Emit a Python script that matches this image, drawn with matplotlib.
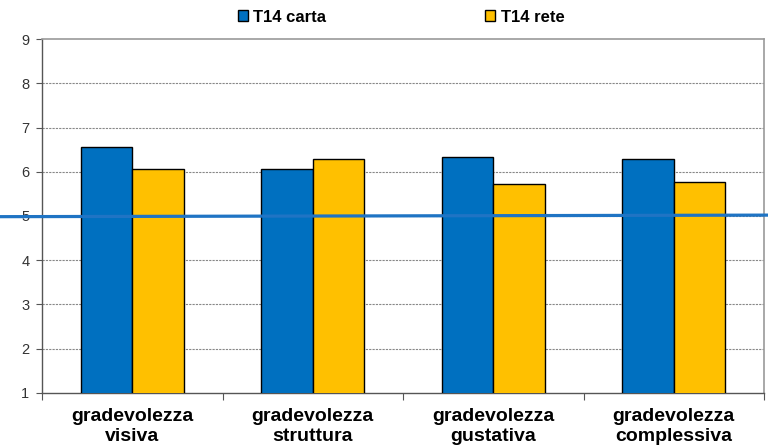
import matplotlib
matplotlib.use("Agg")
import matplotlib.pyplot as plt
import numpy as np

categories = ["gradevolezza\nvisiva", "gradevolezza\nstruttura", "gradevolezza\ngustativa", "gradevolezza\ncomplessiva"]
carta = [6.555, 6.06, 6.34, 6.28]
rete = [6.06, 6.28, 5.72, 5.78]
series_names = ["T14 carta", "T14 rete"]
ref_line = [4.985, 5.02]
yticks = [1, 2, 3, 4, 5, 6, 7, 8, 9]

plt.rcParams['font.family'] = ['Liberation Sans', 'DejaVu Sans']
W, H = 768, 447
fig = plt.figure(figsize=(7.68, 4.47), dpi=100)
L, R, T, B = 42, 764, 39.3, 392.7
ax = fig.add_axes([L/W, 1-B/H, (R-L)/W, (B-T)/H])

x = np.arange(len(categories))
w = 0.284
ax.bar(x - w/2, carta, w, bottom=0, color="#0070C0", edgecolor="black", linewidth=1.0, zorder=3, label=series_names[0])
ax.bar(x + w/2, rete, w, bottom=0, color="#FFC000", edgecolor="black", linewidth=1.0, zorder=3, label=series_names[1])

ax.set_xlim(-0.5, 3.5)
ax.set_ylim(1, 9)
ax.set_yticks(yticks)
ax.set_yticklabels([str(t) for t in yticks], fontsize=10.5, color="#333333")
for t in yticks[1:-1]:
    ax.axhline(t, color="#888888", linestyle=(0, (2, 1)), linewidth=0.8, zorder=1)

ax.set_xticks([-0.5, 0.5, 1.5, 2.5, 3.5])
ax.set_xticklabels([])
ax.set_xticks(x, minor=True)
ax.set_xticklabels(categories, minor=True, fontsize=14, fontweight="bold", linespacing=1.22)
ax.tick_params(axis="x", which="minor", length=0, pad=11)
ax.tick_params(axis="x", which="major", length=5, direction="out", color="#555555")
ax.tick_params(axis="y", length=4, direction="out", color="#555555", pad=5)

for s in ["top", "right"]:
    ax.spines[s].set_color("#999999")
    ax.spines[s].set_linewidth(1.2)
for s in ["left", "bottom"]:
    ax.spines[s].set_color("#555555")
    ax.spines[s].set_linewidth(1.0)

# reference line extending beyond the axes
cw = (R - L) / 4
ax.plot([-0.5 - L/cw, -0.5 + (W - L)/cw], ref_line, color="#1F74C4", linewidth=2.3, zorder=4, clip_on=False)

leg = fig.legend(loc="upper center", bbox_to_anchor=(0.522, 1.012), ncol=2, frameon=False,
                 prop={"weight": "bold", "size": 12}, handlelength=0.6, handleheight=0.6,
                 columnspacing=9.5, handletextpad=0.35)

fig.savefig("out.png", dpi=100)
